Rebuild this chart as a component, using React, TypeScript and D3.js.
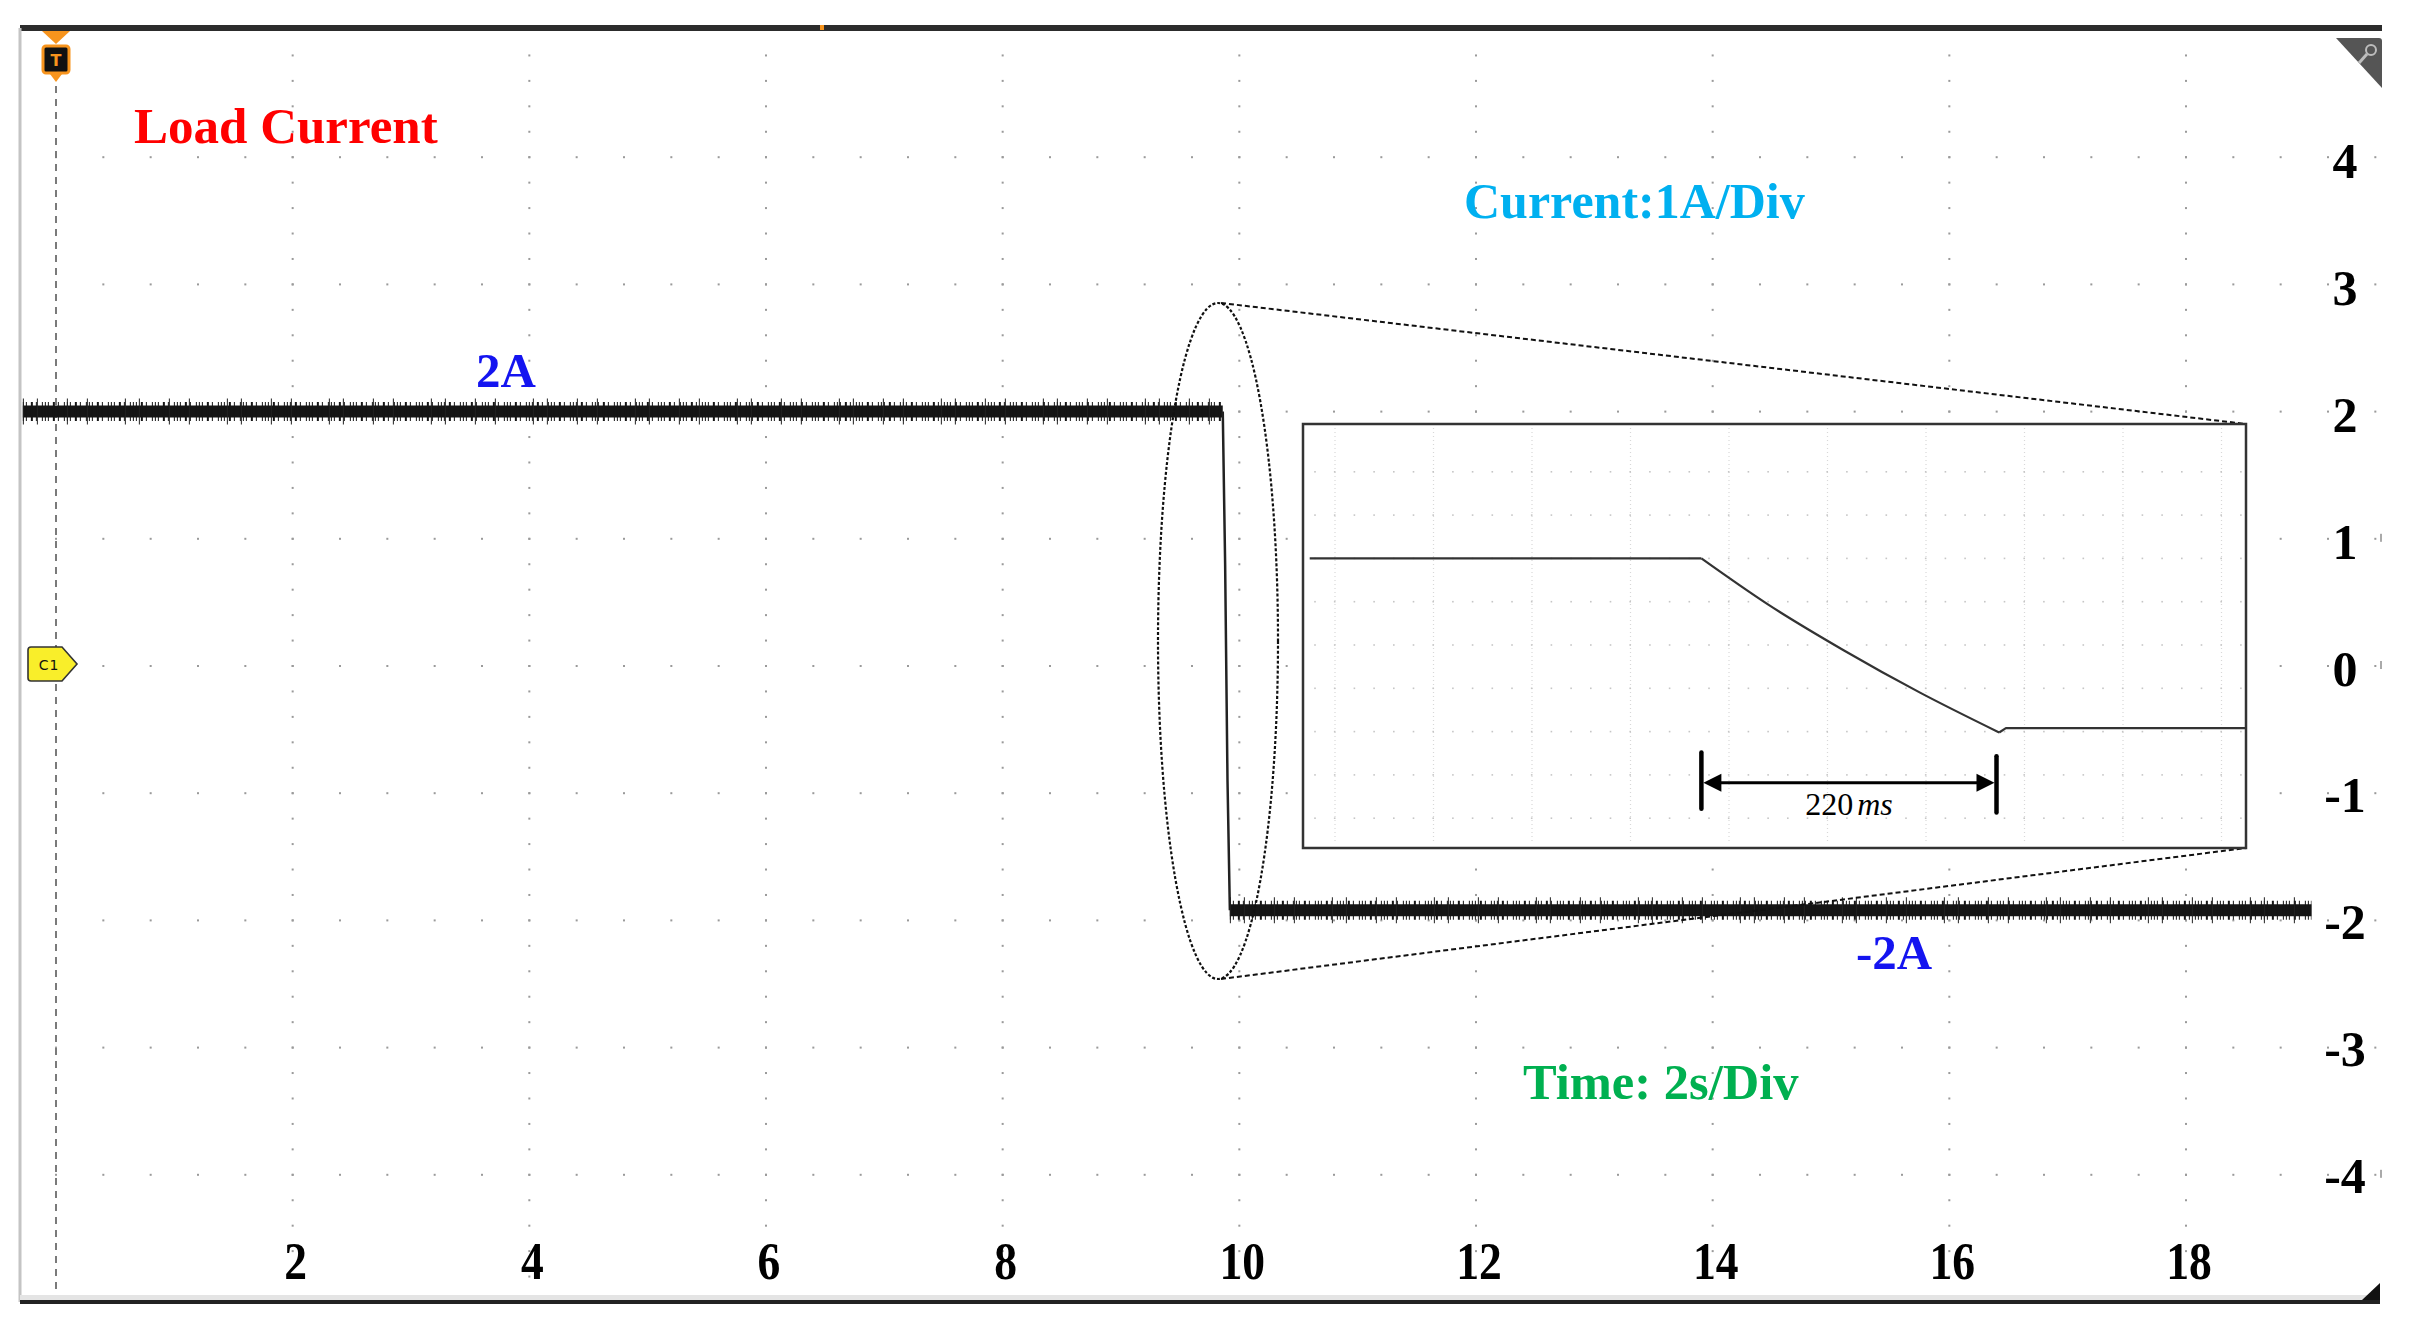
import React from 'react';
import * as d3 from 'd3';

const W = 2409;
const H = 1331;

// Main trace: time (s) and load current (A)
const highTime = [-0.28, 9.86];
const highCurrent = [2.0, 2.0];
const dropTime = [9.86, 9.88, 9.9, 9.92];
const dropCurrent = [2.0, 0.8, -0.9, -1.92];
const lowTime = [9.92, 19.06];
const lowCurrent = [-1.92, -1.92];

// Zoomed view: time (ms) and current (A)
const flatTime = [5, 297];
const flatCurrent = [2.0, 2.0];
const rampTime = [297, 346, 403, 460, 519];
const rampCurrent = [2.0, 0.95, -0.12, -1.1, -2.02];
const settleTime = [519, 524, 703];
const settleCurrent = [-2.02, -1.92, -1.92];

const xTickValues = [2, 4, 6, 8, 10, 12, 14, 16, 18];
const yTickValues = [4, 3, 2, 1, 0, -1, -2, -3, -4];

const intervalStartMs = 297;
const intervalEndMs = 517;
const intervalNumber = '220';
const intervalUnit = 'ms';

const SERIF = '"Liberation Serif", "Times New Roman", Times, serif';

export default function App() {
  const x = d3.scaleLinear().domain([0, 18]).range([56, 2186]);
  const y = d3.scaleLinear().domain([-5, 5]).range([1302, 30]);
  const yLabel = d3.scaleLinear().domain([-4, 4]).range([1176, 161]);
  const xi = d3.scaleLinear().domain([0, 703]).range([1303, 2246]);
  const yi = d3.scaleLinear().domain([-2, 2]).range([731.6, 558.4]);

  const line = d3
    .line<[number, number]>()
    .x((d) => x(d[0]))
    .y((d) => y(d[1]));
  const lineI = d3
    .line<[number, number]>()
    .x((d) => xi(d[0]))
    .y((d) => yi(d[1]));
  const lineIsmooth = d3
    .line<[number, number]>()
    .x((d) => xi(d[0]))
    .y((d) => yi(d[1]))
    .curve(d3.curveMonotoneX);

  const zip = (a: number[], b: number[]) => a.map((t, i) => [t, b[i]]) as [number, number][];

  const hi = line(zip(highTime, highCurrent)) || '';
  const dr = line(zip(dropTime, dropCurrent)) || '';
  const lo = line(zip(lowTime, lowCurrent)) || '';
  const z1 = lineI(zip(flatTime, flatCurrent)) || '';
  const z2 = lineIsmooth(zip(rampTime, rampCurrent)) || '';
  const z3 = lineI(zip(settleTime, settleCurrent)) || '';

  // graticule dots
  const minorT = d3.range(0, 19.61, 0.4);
  const majorV = d3.range(-5, 5.01, 1);
  const majorT = d3.range(2, 18.01, 2);
  const minorV = d3.range(-5, 5.01, 0.2);
  const dots: [number, number][] = [];
  majorV.forEach((v) => minorT.forEach((t) => dots.push([x(t), y(v)])));
  majorT.forEach((t) => minorV.forEach((v) => dots.push([x(t), y(v)])));

  // inset geometry
  const iL = xi(0), iR = xi(703), iT = 424, iB = 848;
  const insetCols = d3.range(0, 10).map((k) => iL + 32 + k * 98.5).filter((v) => v < iR - 4);
  const insetRows = d3.range(-4, 4.01, 1).map((v) => yi(v));
  const insetDotX = d3.range(iL + 12, iR - 4, 19.7);

  const ellCx = 1218, ellCy = 641, ellRx = 60, ellRy = 338;

  const ax1 = xi(intervalStartMs), ax2 = xi(intervalEndMs);
  const ay = yi(-3.18);

  const traceStyle = (d: string, key: string) => (
    <g key={key}>
      <path d={d} fill="none" stroke="#151515" strokeWidth={12} />
      <path d={d} fill="none" stroke="#151515" strokeWidth={19} strokeDasharray="1 2 1 4 2 3 1 5 1 2" />
      <path d={d} fill="none" stroke="#222" strokeWidth={26} strokeDasharray="1 13 1 29 1 19 1 37" />
    </g>
  );

  return (
    <svg
      width={W}
      height={H}
      viewBox={`0 0 ${W} ${H}`}
      style={{ position: 'absolute', left: 0, top: 0, display: 'block', background: '#fff' }}
    >
      <rect x={0} y={0} width={W} height={H} fill="#fff" />

      {/* graticule dots */}
      <g fill="#9a9a9a">
        {dots.map((d, i) => (
          <rect key={i} x={d[0] - 1} y={d[1] - 1} width={2} height={2} />
        ))}
      </g>

      {/* frame */}
      <rect x={20} y={25} width={2362} height={6} fill="#2c2c2c" />
      <line x1={20} y1={28} x2={20} y2={1302} stroke="#c4c4c4" strokeWidth={3} />
      <rect x={20} y={1295} width={2360} height={6} fill="#e4e4e4" />
      <rect x={20} y={1300} width={2360} height={4} fill="#222" />
      <rect x={820} y={25} width={4} height={5} fill="#F7941D" />
      <path d="M2362,1300 L2380,1283 L2380,1300 Z" fill="#111" />
      {[1, 0, -4].map((v) => (
        <rect key={v} x={2380} y={y(v) - 5} width={2} height={8} fill="#aaa" />
      ))}

      {/* top-right zoom icon */}
      <path d="M2336,38 L2379,38 Q2382,38 2382,41 L2382,88 Z" fill="#555" />
      <circle cx={2371} cy={50} r={5} fill="none" stroke="#bdbdbd" strokeWidth={2} />
      <line x1={2367} y1={54} x2={2359} y2={63} stroke="#bdbdbd" strokeWidth={3} />

      {/* trigger line and marker */}
      <line x1={56} y1={86} x2={56} y2={1290} stroke="#7a7a7a" strokeWidth={2} strokeDasharray="7 6" />
      <path d="M42,31 L70,31 L56,44 Z" fill="#F7941D" />
      <rect x={43} y={46} width={26} height={27} rx={3} fill="#111" stroke="#F7941D" strokeWidth={3} />
      <path d="M50,74 L62,74 L56,82 Z" fill="#F7941D" />
      <text x={56} y={66} textAnchor="middle" fontFamily="DejaVu Sans, sans-serif" fontWeight="bold" fontSize={16} fill="#F7941D">T</text>

      {/* C1 marker */}
      <path d="M28,650 Q28,647 31,647 L62,647 L77,664 L62,681 L31,681 Q28,681 28,678 Z" fill="#F9EE2A" stroke="#333" strokeWidth={1.6} />
      <text x={49} y={669.5} textAnchor="middle" fontFamily="DejaVu Sans, sans-serif" fontSize={14} letterSpacing={1} fill="#111">C1</text>

      {/* main traces */}
      {traceStyle(hi, 'hi')}
      <path d={dr} fill="none" stroke="#222" strokeWidth={2.5} />
      {traceStyle(lo, 'lo')}

      {/* magnifier ellipse and connectors */}
      <ellipse cx={ellCx} cy={ellCy} rx={ellRx} ry={ellRy} fill="none" stroke="#111" strokeWidth={2.2} strokeDasharray="3 2" />
      <line x1={ellCx + 3} y1={ellCy - ellRy} x2={iR} y2={iT} stroke="#111" strokeWidth={2} strokeDasharray="5 3" />
      <line x1={ellCx + 3} y1={ellCy + ellRy} x2={iR} y2={iB} stroke="#111" strokeWidth={2} strokeDasharray="5 3" />

      {/* inset */}
      <rect x={iL} y={iT} width={iR - iL} height={iB - iT} fill="#fff" stroke="#333" strokeWidth={2.5} />
      <g stroke="#d8d8d8" strokeWidth={1.2} strokeDasharray="1 3">
        {insetCols.map((cx, i) => (
          <line key={i} x1={cx} y1={iT + 4} x2={cx} y2={iB - 4} />
        ))}
      </g>
      <g fill="#c6c6c6">
        {insetRows.map((ry, i) =>
          insetDotX.map((dx, j) => <rect key={i + '-' + j} x={dx - 0.8} y={ry - 0.8} width={1.6} height={1.6} />)
        )}
      </g>
      <g fill="none" stroke="#333" strokeWidth={2.2} strokeLinejoin="round">
        <path d={z1} />
        <path d={z2} />
        <path d={z3} />
      </g>

      {/* 220 ms dimension */}
      <line x1={ax1} y1={yi(-2.48)} x2={ax1} y2={yi(-3.78)} stroke="#000" strokeWidth={4.5} strokeLinecap="round" />
      <line x1={ax2} y1={yi(-2.57)} x2={ax2} y2={yi(-3.87)} stroke="#000" strokeWidth={4.5} strokeLinecap="round" />
      <line x1={ax1 + 14} y1={ay} x2={ax2 - 14} y2={ay} stroke="#000" strokeWidth={3} />
      <path d={`M${ax1 + 2},${ay} L${ax1 + 20},${ay - 9} L${ax1 + 20},${ay + 9} Z`} fill="#000" />
      <path d={`M${ax2 - 2},${ay} L${ax2 - 20},${ay - 9} L${ax2 - 20},${ay + 9} Z`} fill="#000" />
      <text x={(ax1 + ax2) / 2} y={815} textAnchor="middle" fontFamily={SERIF} fontSize={32} fill="#000">
        {intervalNumber}
        <tspan fontStyle="italic" dx={4}>{intervalUnit}</tspan>
      </text>

      {/* annotations */}
      <text x={134} y={143} fontFamily={SERIF} fontWeight="bold" fontSize={51} fill="#FF0000">Load Current</text>
      <text x={1464} y={218} fontFamily={SERIF} fontWeight="bold" fontSize={50} fill="#00B0F0">Current:1A/Div</text>
      <text x={476} y={387} fontFamily={SERIF} fontWeight="bold" fontSize={49} fill="#1414F0">2A</text>
      <text x={1856} y={969} fontFamily={SERIF} fontWeight="bold" fontSize={49} fill="#1414F0">-2A</text>
      <text x={1523} y={1099} fontFamily={SERIF} fontWeight="bold" fontSize={50.5} fill="#00B050">Time: 2s/Div</text>

      {/* axis labels */}
      <g fontFamily={SERIF} fontWeight="bold" fill="#000">
        {xTickValues.map((v) => (
          <text key={v} transform={`translate(${x(v) + 3},1279) scale(0.86,1)`} textAnchor="middle" fontSize={53}>
            {v}
          </text>
        ))}
        {yTickValues.map((v) => (
          <text key={v} x={2345} y={yLabel(v) + 17} textAnchor="middle" fontSize={50}>
            {v}
          </text>
        ))}
      </g>
    </svg>
  );
}
